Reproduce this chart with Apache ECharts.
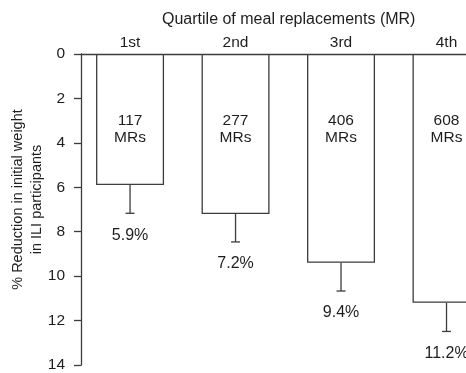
<!DOCTYPE html>
<html>
<head>
<meta charset="utf-8">
<script src="https://cdn.jsdelivr.net/npm/echarts@6/dist/echarts.min.js"></script>
<style>
  html, body { margin: 0; padding: 0; background: #fff; }
  #chart { width: 466px; height: 373px; }
</style>
</head>
<body>
<div id="chart"></div>
<script>
// Weight reduction by quartile of meal replacements
const quartiles = ['1st', '2nd', '3rd', '4th'];
const mrCounts = [117, 277, 406, 608];
const reduction = [5.9, 7.2, 9.4, 11.2];
const errors = [1.27, 1.26, 1.27, 1.29];
const yTicks = [0, 2, 4, 6, 8, 10, 12, 14];

const FONT = '"Liberation Sans", Arial, Helvetica, sans-serif';
const INK = '#1e1e1e';
const LINE = '#3c3c3c';

const positions = quartiles.map((_, i) => i + 1);

const chart = echarts.init(document.getElementById('chart'), null, { renderer: 'canvas' });

chart.setOption({
  backgroundColor: '#ffffff',
  animation: false,
  textStyle: { fontFamily: FONT },
  title: {
    text: 'Quartile of meal replacements (MR)',
    left: 162,
    top: 12,
    padding: 0,
    textStyle: { fontFamily: FONT, fontSize: 16, fontWeight: 'normal', color: INK }
  },
  grid: {
    left: 81, top: 54, height: 311, width: 471,
    containLabel: false,
    outerBoundsMode: 'none'
  },
  xAxis: {
    type: 'value',
    position: 'top',
    min: 0.535,
    max: 5,
    splitLine: { show: false },
    axisLine: { show: true, lineStyle: { color: LINE, width: 1.3 } },
    axisTick: { show: false },
    axisLabel: {
      customValues: positions,
      formatter: (v) => quartiles[Math.round(v) - 1] || '',
      margin: 3,
      fontSize: 15.5,
      color: INK,
      fontFamily: FONT
    }
  },
  yAxis: {
    type: 'value',
    inverse: true,
    min: yTicks[0],
    max: yTicks[yTicks.length - 1],
    interval: 2,
    name: '% Reduction in initial weight\nin ILI participants',
    nameLocation: 'middle',
    nameRotate: 90,
    nameGap: 35,
    nameMoveOverlap: false,
    nameTextStyle: {
      fontFamily: FONT, fontSize: 14.5, lineHeight: 19, color: INK,
      align: 'center', padding: [0, 0, 0, 20]
    },
    splitLine: { show: false },
    axisLine: { show: true, lineStyle: { color: LINE, width: 1.3 } },
    axisTick: { show: true, length: 7, lineStyle: { color: LINE, width: 1.3 } },
    axisLabel: { margin: 16, fontSize: 15.5, color: INK, fontFamily: FONT }
  },
  series: [
    {
      type: 'bar',
      barWidth: 68,
      data: reduction.map((v, i) => [positions[i], v]),
      itemStyle: { color: '#ffffff', borderColor: LINE, borderWidth: 1.3 },
      label: {
        show: true,
        position: 'insideTop',
        distance: 58,
        formatter: (p) => mrCounts[p.dataIndex] + '\nMRs',
        fontFamily: FONT,
        fontSize: 15.5,
        lineHeight: 17,
        color: INK,
        align: 'center'
      },
      z: 2
    },
    {
      // error whisker below each bar, with the value written underneath
      type: 'custom',
      z: 3,
      data: reduction.map((v, i) => [positions[i], v, errors[i]]),
      renderItem: (params, api) => {
        const x = api.value(0);
        const v = api.value(1);
        const e = api.value(2);
        const p0 = api.coord([x, v]);
        const p1 = api.coord([x, v + e]);
        const style = { stroke: LINE, lineWidth: 1.3 };
        return {
          type: 'group',
          children: [
            { type: 'line', shape: { x1: p0[0], y1: p0[1], x2: p1[0], y2: p1[1] }, style },
            { type: 'line', shape: { x1: p1[0] - 4.5, y1: p1[1], x2: p1[0] + 4.5, y2: p1[1] }, style },
            {
              type: 'text',
              style: {
                x: p1[0], y: p1[1] + 22,
                text: v.toFixed(1) + '%',
                fill: INK,
                font: '16px ' + FONT,
                align: 'center',
                verticalAlign: 'middle'
              }
            }
          ]
        };
      }
    }
  ]
});
</script>
</body>
</html>
